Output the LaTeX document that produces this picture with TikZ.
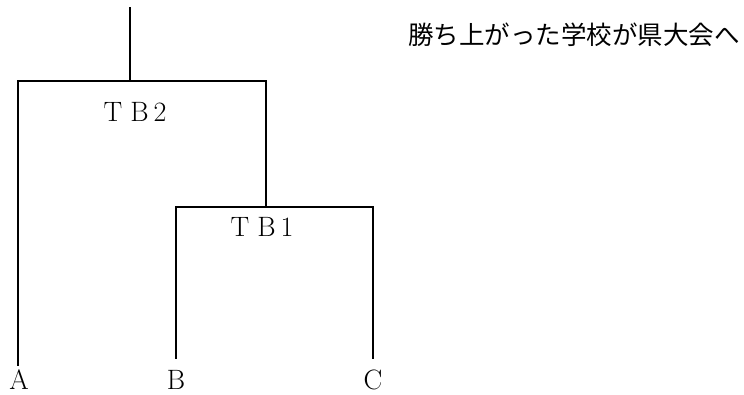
\documentclass[tikz,border=0pt]{standalone}
\usepackage{fontspec}
\newfontfamily\jpfont{Noto Sans CJK JP}
\begin{document}
\begin{tikzpicture}[x=1pt,y=1pt,
  line/.style={line width=1.6pt, line cap=rect},
  leaf/.style={inner sep=0pt, font=\fontsize{28}{32}\selectfont},
  tb/.style={inner sep=0pt, font=\fontsize{28}{32}\selectfont}]
\useasboundingbox (0,0) rectangle (744,394);
% junctions
\coordinate (top) at (130,386);
\coordinate (j2) at (130,313);
\coordinate (l2) at (18,313);
\coordinate (r2) at (266,313);
\coordinate (r1top) at (266,187);
\coordinate (l1) at (176,187);
\coordinate (r1) at (373,187);
\coordinate (aEnd) at (18,29);
\coordinate (bEnd) at (176,36);
\coordinate (cEnd) at (373,36);
% labels
\node[leaf] (A) at (19,14) {A};
\node[leaf] (B) at (176,14) {B};
\node[leaf] (C) at (373,14) {C};
\node[tb] (TB2) at (135,282) {T\hspace{8pt}B\hspace{5pt}2};
\node[tb] (TB1) at (262,167) {T\hspace{8pt}B\hspace{5pt}1};
\node[inner sep=0pt, font=\jpfont\fontsize{25.5}{30}\selectfont] (note) at (574,359) {勝ち上がった学校が県大会へ};
% tree
\draw[line] (top) -- (j2);
\draw[line] (aEnd) -- (l2) -- (r2) -- (r1top);
\draw[line] (bEnd) -- (l1) -- (r1) -- (cEnd);
\end{tikzpicture}
\end{document}
